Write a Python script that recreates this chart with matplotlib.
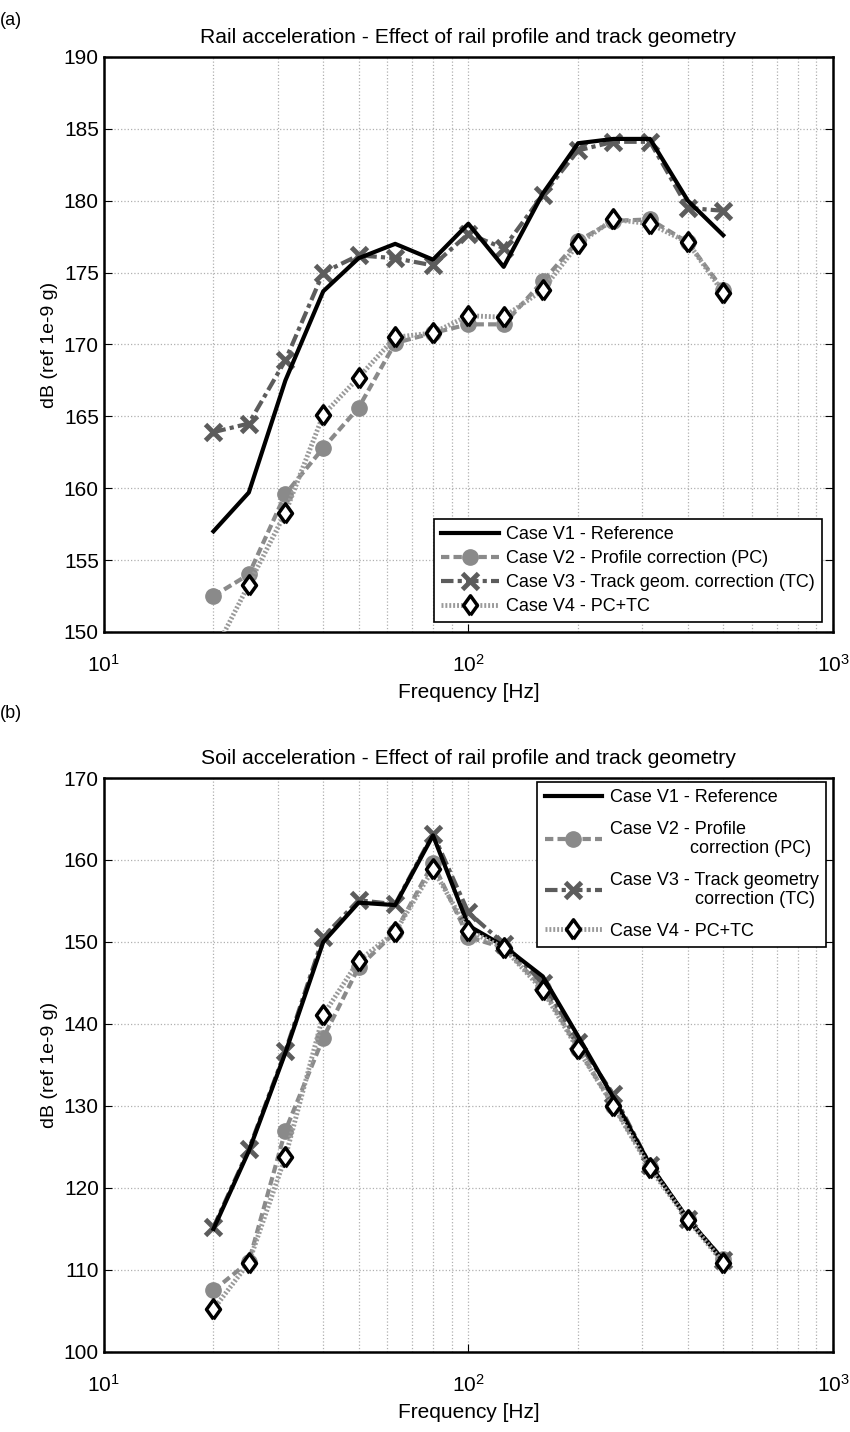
import matplotlib
matplotlib.use("Agg")
import matplotlib.pyplot as plt
from matplotlib.ticker import LogLocator, NullFormatter

plt.rcParams['font.family'] = ['Liberation Sans', 'DejaVu Sans']

freq = [20, 25, 31.5, 40, 50, 63, 80, 100, 125, 160, 200, 250, 315, 400, 500]

# (a) rail acceleration
rail_v1 = [157.0, 159.7, 167.5, 173.7, 176.0, 177.0, 175.9, 178.4, 175.4, 180.5, 184.0, 184.3, 184.3, 180.0, 177.6]
rail_v2 = [152.5, 154.0, 159.6, 162.8, 165.6, 170.1, 170.8, 171.4, 171.4, 174.4, 177.2, 178.6, 178.7, 177.1, 173.8]
rail_v3 = [163.9, 164.5, 168.9, 175.0, 176.2, 176.0, 175.5, 177.7, 176.7, 180.4, 183.5, 184.1, 184.1, 179.5, 179.3]
rail_v4 = [148.5, 153.3, 158.3, 165.1, 167.7, 170.5, 170.8, 172.0, 171.9, 173.8, 177.0, 178.7, 178.4, 177.1, 173.6]

# (b) soil acceleration
soil_v1 = [115.0, 124.5, 136.5, 150.0, 154.8, 154.5, 163.0, 152.0, 149.5, 145.8, 138.5, 131.0, 122.8, 116.2, 111.2]
soil_v2 = [107.5, 111.0, 127.0, 138.3, 146.9, 151.2, 159.6, 150.6, 149.3, 144.4, 137.0, 130.0, 122.6, 116.2, 111.3]
soil_v3 = [115.2, 124.7, 136.7, 150.6, 155.1, 154.6, 163.2, 153.6, 149.8, 145.0, 137.8, 131.4, 122.8, 116.2, 111.2]
soil_v4 = [105.2, 110.9, 123.8, 141.1, 147.7, 151.2, 158.9, 151.4, 149.3, 144.1, 136.9, 130.0, 122.4, 116.1, 110.9]

labels_a = ['Case V1 - Reference', 'Case V2 - Profile correction (PC)',
            'Case V3 - Track geom. correction (TC)', 'Case V4 - PC+TC']
labels_b = ['Case V1 - Reference', 'Case V2 - Profile\n' + ' ' * 16 + 'correction (PC)',
            'Case V3 - Track geometry\n' + ' ' * 17 + 'correction (TC)', 'Case V4 - PC+TC']

# slightly tall diamond, like the original marker
diamond = [(0, -1), (0.72, 0), (0, 1), (-0.72, 0), (0, -1)]

fig = plt.figure(figsize=(8.5, 14.32), dpi=100)
ax1 = fig.add_axes([0.122, 0.5587, 0.858, 0.4015])
ax2 = fig.add_axes([0.122, 0.0559, 0.858, 0.4008])


def draw(ax, v1, v2, v3, v4, labels):
    ax.plot(freq, v1, color='black', lw=3, ls='-', label=labels[0], zorder=5)
    ax.plot(freq, v2, color='#8a8a8a', lw=3, ls=(0, (2, 1)), marker='o', ms=11,
            mfc='#8a8a8a', mec='#8a8a8a', label=labels[1], zorder=3)
    ax.plot(freq, v3, color='#5c5c5c', lw=3, ls=(0, (3, 1, 1, 1)), marker='x', ms=11,
            mew=3.5, mec='#5c5c5c', label=labels[2], zorder=4)
    ax.plot(freq, v4, color='#9a9a9a', lw=3.5, ls=(0, (0.4, 0.4)), marker=diamond, ms=14,
            mfc='white', mec='black', mew=2.5, label=labels[3], zorder=6)
    ax.set_xscale('log')
    ax.set_xlim(10, 1000)
    ax.xaxis.set_major_locator(LogLocator(base=10))
    ax.xaxis.set_minor_locator(LogLocator(base=10, subs=range(2, 10)))
    ax.xaxis.set_minor_formatter(NullFormatter())
    ax.grid(True, which='major', color='#b0b0b0', ls=':', lw=0.9)
    ax.grid(True, which='minor', axis='x', color='#b0b0b0', ls=':', lw=0.9)
    ax.tick_params(direction='in', which='both', labelsize=15, length=6, top=False, right=True)
    ax.tick_params(which='minor', length=0)
    ax.tick_params(axis='x', pad=16)
    for s in ax.spines.values():
        s.set_linewidth(1.8)
    ax.set_xlabel('Frequency [Hz]', fontsize=15, labelpad=5)
    ax.set_ylabel('dB (ref 1e-9 g)', fontsize=14)


draw(ax1, rail_v1, rail_v2, rail_v3, rail_v4, labels_a)
ax1.set_ylim(150, 190)
ax1.set_yticks(range(150, 191, 5))
ax1.set_title('Rail acceleration - Effect of rail profile and track geometry', fontsize=15.2, pad=10)
leg1 = ax1.legend(loc='lower right', bbox_to_anchor=(0.985, 0.017), borderaxespad=0, fontsize=13,
                  handlelength=3.2, handletextpad=0.4, borderpad=0.4, labelspacing=0.38,
                  fancybox=False, edgecolor='black', framealpha=1)
leg1.get_frame().set_linewidth(1.2)

draw(ax2, soil_v1, soil_v2, soil_v3, soil_v4, labels_b)
ax2.set_ylim(100, 170)
ax2.set_yticks(range(100, 171, 10))
ax2.set_title('Soil acceleration - Effect of rail profile and track geometry', fontsize=15.2, pad=10)
leg2 = ax2.legend(loc='upper right', bbox_to_anchor=(0.99, 0.993), borderaxespad=0, fontsize=13,
                  handlelength=3.2, handletextpad=0.4, borderpad=0.4, labelspacing=0.8,
                  fancybox=False, edgecolor='black', framealpha=1)
leg2.get_frame().set_linewidth(1.2)

fig.text(0.0, 0.9915, '(a)', fontsize=13, va='top')
fig.text(0.0, 0.5075, '(b)', fontsize=13, va='top')

fig.savefig('out.png', dpi=100)
